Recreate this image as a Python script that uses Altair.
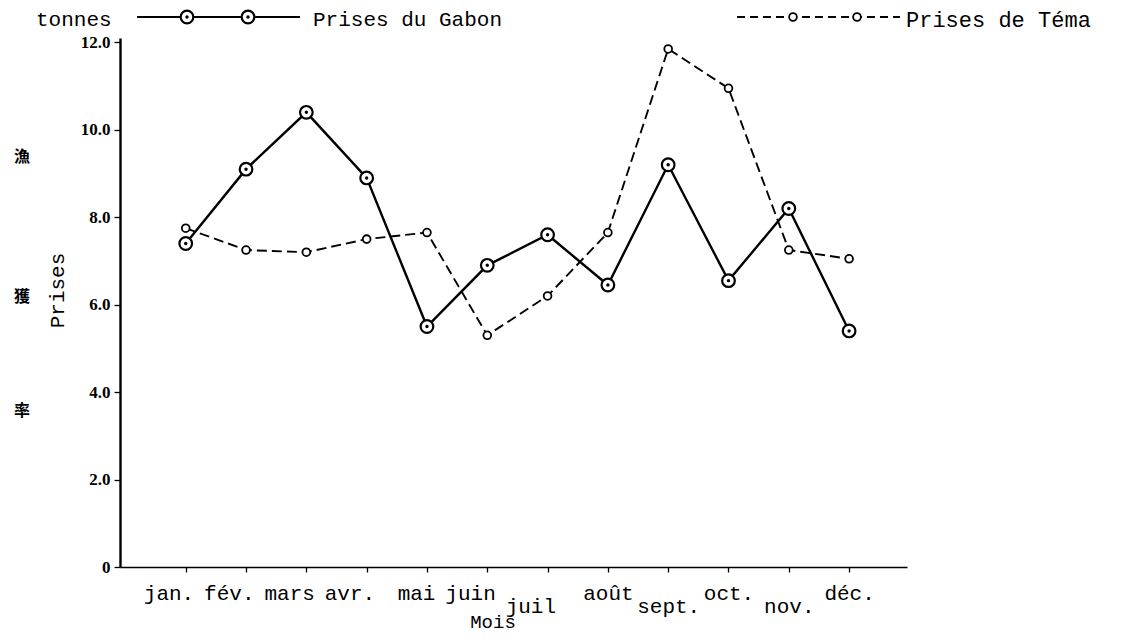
import json
import altair as alt
import pandas as pd

# ---- data ----
months = ["jan.", "fév.", "mars", "avr.", "mai", "juin", "juil", "août",
          "sept.", "oct.", "nov.", "déc."]
gabon = [7.4, 9.1, 10.4, 8.9, 5.5, 6.9, 7.6, 6.45, 9.2, 6.55, 8.2, 5.4]
tema = [7.75, 7.25, 7.2, 7.5, 7.65, 5.3, 6.2, 7.65, 11.85, 10.95, 7.25, 7.05]
y_ticks = [0, 2, 4, 6, 8, 10, 12]
series_names = ["Prises du Gabon", "Prises de Téma"]

rows = []
for i, m in enumerate(months):
    rows.append({"i": i, "mois": m, "v": gabon[i], "s": series_names[0]})
    rows.append({"i": i, "mois": m, "v": tema[i], "s": series_names[1]})
df = pd.DataFrame(rows)

MONO = "Liberation Mono"
X0, Y0 = 120, 38  # page position of plot origin
W, H = 787, 529

months_js = json.dumps(months, ensure_ascii=False)
label_expr = (f"indexof([6, 8, 10], datum.value) >= 0 ? ['', {months_js}[datum.value]]"
              f" : {months_js}[datum.value]")

x_enc = alt.X("i:Q", scale=alt.Scale(domain=[-1.09, 11.96], nice=False, zero=False),
              axis=alt.Axis(values=list(range(12)), labelExpr=label_expr, title=None,
                            labelFont=MONO, labelFontSize=21, labelColor="black",
                            labelBaseline="top", labelPadding=10, labelLineHeight=13,
                            labelAlign={"condition": {"test": "datum.value < 7", "value": "right"},
                                        "value": "center"},
                            labelOffset={"condition": {"test": "datum.value < 7", "value": 8},
                                         "value": 0},
                            labelOverlap=False, labelBound=False, labelFlush=False,
                            tickSize=5, tickWidth=1.3, tickColor="black",
                            domainColor="black", domainWidth=1.6, grid=False))
y_enc = alt.Y("v:Q", scale=alt.Scale(domain=[0, 12.1], nice=False),
              axis=alt.Axis(values=y_ticks,
                            labelExpr="datum.value == 0 ? '0' : format(datum.value, '.1f')",
                            labelFont="Liberation Serif", labelFontWeight="bold",
                            labelFontSize=17, labelColor="black", labelPadding=4,
                            tickSize=6, tickWidth=1.3, tickColor="black",
                            domainColor="black", domainWidth=2.4, grid=False,
                            title="Prises", titleFont=MONO, titleFontSize=21,
                            titleFontWeight="normal", titleColor="black",
                            titleAngle=-90, titleX=57 - X0, titleY=290 - Y0,
                            titleAlign="center", titleBaseline="middle"))

base = alt.Chart(df).encode(x=x_enc, y=y_enc)
g = base.transform_filter(alt.datum.s == series_names[0])
t = base.transform_filter(alt.datum.s == series_names[1])

layers = [
    t.mark_line(color="black", strokeWidth=1.9, strokeDash=[10, 5]),
    g.mark_line(color="black", strokeWidth=2.4),
    t.mark_point(shape="circle", filled=True, fill="white", stroke="black",
                 strokeWidth=1.8, size=60, opacity=1),
    g.mark_point(shape="circle", filled=True, fill="white", stroke="black",
                 strokeWidth=2.2, size=160, opacity=1),
    g.mark_point(shape="circle", filled=True, fill="black", size=12, opacity=1),
]

one = alt.Data(values=[{"k": 0}])


def px(x):
    return alt.value(x - X0)


def py(y):
    return alt.value(y - Y0)


def text_at(txt, x, y, **kw):
    return alt.Chart(one).mark_text(text=txt, color="black", **kw).encode(x=px(x), y=py(y))


def seg(x1, x2, y, **kw):
    return alt.Chart(one).mark_rule(color="black", **kw).encode(x=px(x1), x2=px(x2), y=py(y))


def marker(x, y, big):
    if big:
        return [alt.Chart(one).mark_point(shape="circle", filled=True, fill="white",
                                          stroke="black", strokeWidth=2.2, size=160,
                                          opacity=1).encode(x=px(x), y=py(y)),
                alt.Chart(one).mark_point(shape="circle", filled=True, fill="black",
                                          size=12, opacity=1).encode(x=px(x), y=py(y))]
    return [alt.Chart(one).mark_point(shape="circle", filled=True, fill="white",
                                      stroke="black", strokeWidth=1.8, size=60,
                                      opacity=1).encode(x=px(x), y=py(y))]


LY = 17
legend = [seg(137, 300, LY, strokeWidth=2.2)]
legend += marker(187, LY, True) + marker(248, LY, True)
legend.append(text_at(series_names[0], 313, LY + 3, font=MONO, fontSize=21,
                      align="left", baseline="middle"))
legend.append(seg(737, 900, LY, strokeWidth=1.8, strokeDash=[8, 5]))
legend += marker(793, LY, False) + marker(857, LY, False)
legend.append(text_at(series_names[1], 906, LY + 3, font=MONO, fontSize=22,
                      align="left", baseline="middle"))

annots = [
    text_at("tonnes", 36, 20, font=MONO, fontSize=21, align="left", baseline="middle"),
    text_at("Mois", 493, 622, font=MONO, fontSize=19, align="center", baseline="middle"),
    text_at("漁", 22, 157, font="Noto Sans CJK JP", fontSize=16, fontWeight="bold",
            align="center", baseline="middle"),
    text_at("獲", 22, 297, font="Noto Sans CJK JP", fontSize=16, fontWeight="bold",
            align="center", baseline="middle"),
    text_at("率", 22, 411, font="Noto Sans CJK JP", fontSize=16, fontWeight="bold",
            align="center", baseline="middle"),
]

chart = alt.layer(*layers, *legend, *annots).properties(
    width=W, height=H, autosize="none", background="white",
    padding={"left": X0 - 8, "top": Y0 - 8, "right": 215, "bottom": 68},
).configure_view(strokeWidth=0, stroke="transparent")

chart.save("out.html", embed_options={"renderer": "svg", "actions": False})
